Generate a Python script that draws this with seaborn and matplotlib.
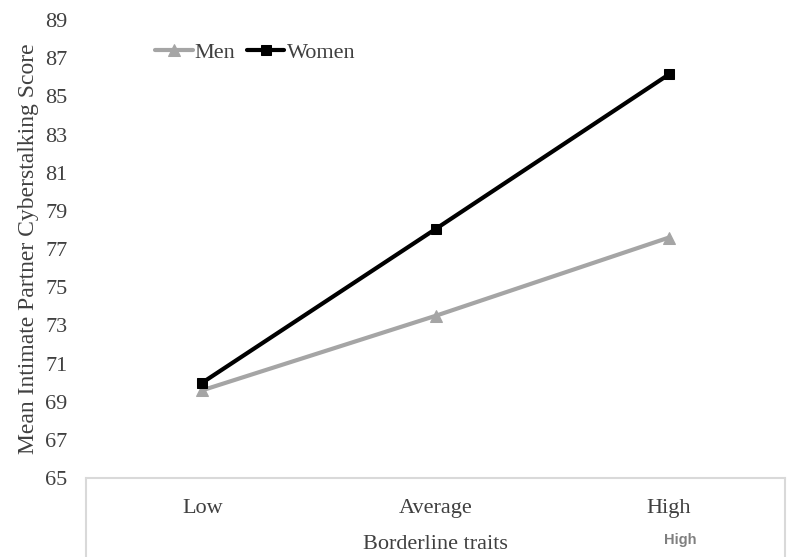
import matplotlib
matplotlib.use("Agg")
import matplotlib.pyplot as plt
import seaborn as sns
import pandas as pd
from matplotlib.lines import Line2D

categories = ["Low", "Average", "High"]
men = [69.6, 73.5, 77.6]
women = [70.0, 78.05, 86.15]
yticks = list(range(65, 90, 2))

sns.set_theme(style="white")
plt.rcParams["font.family"] = ["Liberation Serif", "DejaVu Serif"]

df = pd.DataFrame({
    "trait": categories * 2,
    "score": men + women,
    "group": ["Men"] * 3 + ["Women"] * 3,
})

fig = plt.figure(figsize=(7.87, 5.57), dpi=100)
ax = fig.add_axes([0.109, 0.1418, 0.889, 0.8222])

sns.lineplot(data=df[df.group == "Men"], x="trait", y="score", ax=ax,
             color="#a5a5a5", lw=3, marker="^", markersize=8,
             markeredgecolor="#a5a5a5", label="Men", sort=False)
sns.lineplot(data=df[df.group == "Women"], x="trait", y="score", ax=ax,
             color="#000000", lw=3, marker="s", markersize=7.5,
             markeredgecolor="#000000", label="Women", sort=False)

ax.set_xlim(-0.5, 2.5)
ax.set_ylim(65, 89)
ax.set_yticks(yticks)
ax.set_yticklabels([str(t) for t in yticks], fontsize=16, color="#404040")
ax.set_xticks(range(len(categories)))
ax.set_xticklabels(categories, fontsize=16, color="#404040")
ax.tick_params(axis="x", length=0, pad=15)
ax.tick_params(axis="y", length=0, pad=13)

for s in ["left", "right", "top"]:
    ax.spines[s].set_visible(False)
ax.spines["bottom"].set_color("#d9d9d9")
ax.spines["bottom"].set_linewidth(1.5)

ax.set_xlabel("Borderline traits", fontsize=16, color="#404040", labelpad=12)
ax.set_ylabel("Mean Intimate Partner Cyberstalking Score", fontsize=17,
              color="#404040", labelpad=5)

# box lines below the axis
x0 = 0.109
yb = 0.1418
fig.add_artist(Line2D([x0, x0], [0, yb], transform=fig.transFigure,
                      color="#d9d9d9", lw=1.5))
fig.add_artist(Line2D([0.997, 0.997], [0, yb], transform=fig.transFigure,
                      color="#d9d9d9", lw=1.5))

fig.text(680 / 787, 1 - 540 / 557, "High", family="Liberation Sans",
         fontweight="bold", fontsize=10.5, color="#7f7f7f",
         ha="center", va="center")

leg = ax.legend(loc="upper left", bbox_to_anchor=(0.07, 0.995), ncol=2,
                frameon=False, fontsize=16, handlelength=1.7,
                handletextpad=0.1, columnspacing=0.5, labelcolor="#404040")

fig.savefig("out.png", dpi=100)
